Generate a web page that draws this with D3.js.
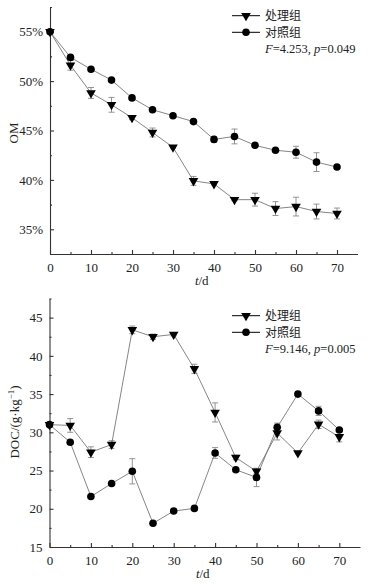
<!DOCTYPE html>
<html>
<head>
<meta charset="utf-8">
<script src="https://cdn.jsdelivr.net/npm/d3@7"></script>
<style>
  body { margin: 0; background: #fff; }
  svg text { font-family: "Liberation Serif", "Times New Roman", Times, "DejaVu Serif", serif !important; fill: #222; }
  svg text.cjk { font-family: "Noto Sans CJK SC", sans-serif !important; }
</style>
</head>
<body>
<div id="chart"></div>
<script>
// sampling days
const days = [0, 5, 10, 15, 20, 25, 30, 35, 40, 45, 50, 55, 60, 65, 70];

// OM (%)
const omTreat = [55.0, 51.6, 48.8, 47.6, 46.3, 44.8, 43.3, 39.9, 39.6, 38.0, 38.0, 37.1, 37.3, 36.8, 36.6];
const omTreatErr = [0.05, 0.5, 0.55, 0.75, 0.2, 0.45, 0.1, 0.45, 0.1, 0.1, 0.65, 0.7, 0.95, 0.75, 0.55];
const omCtrl = [55.0, 52.4, 51.2, 50.1, 48.3, 47.1, 46.5, 45.9, 44.1, 44.4, 43.5, 43.0, 42.8, 41.8, 41.3];
const omCtrlErr = [0.05, 0.1, 0.1, 0.1, 0.1, 0.1, 0.1, 0.1, 0.3, 0.75, 0.1, 0.1, 0.6, 0.95, 0.15];

// DOC (g/kg)
const docTreat = [31.0, 30.9, 27.4, 28.4, 43.4, 42.5, 42.8, 38.3, 32.6, 26.7, 24.9, 29.9, 27.3, 31.05, 29.4];
const docTreatErr = [0.1, 0.9, 0.7, 0.5, 0.5, 0.35, 0.2, 0.6, 1.25, 0.3, 0.35, 0.9, 0.1, 0.55, 0.65];
const docCtrl = [31.0, 28.7, 21.6, 23.3, 24.9, 18.1, 19.7, 20.05, 27.3, 25.1, 24.1, 30.65, 35.0, 32.8, 30.3];
const docCtrlErr = [0.1, 0.2, 0.1, 0.1, 1.65, 0.1, 0.1, 0.1, 0.7, 0.1, 1.2, 0.55, 0.1, 0.6, 0.2];

const xTicks = [0, 10, 20, 30, 40, 50, 60, 70];
const omTicks = [35, 40, 45, 50, 55];
const docTicks = [15, 20, 25, 30, 35, 40, 45];
const seriesNames = ["处理组", "对照组"];
const omStat = ["4.253", "0.049"];
const docStat = ["9.146", "0.005"];

const width = 370, height = 584;

const svg = d3.select("#chart")
    .append("svg")
    .attr("width", width)
    .attr("height", height)
    .attr("viewBox", [0, 0, width, height]);

const tri = d3.symbol().type(d3.symbolTriangle).size(40);

function panel(opt) {
    const g = svg.append("g");
    const x = d3.scaleLinear().domain([0, 75]).range([opt.left, opt.right]);
    const y = d3.scaleLinear().domain(opt.yDomain).range([opt.bottom, opt.top]);

    // axes, ticks pointing inward
    g.append("g")
        .attr("transform", `translate(0,${opt.bottom})`)
        .call(d3.axisBottom(x).tickValues(d3.range(5, 75, 10)).tickSize(-2).tickFormat(""))
        .call(a => a.select(".domain").remove());
    g.append("g")
        .attr("transform", `translate(0,${opt.bottom})`)
        .call(d3.axisBottom(x).tickValues(xTicks).tickSize(-4).tickPadding(9).tickSizeOuter(0))
        .call(a => a.selectAll("text").attr("font-size", 13));
    g.append("g")
        .attr("transform", `translate(${opt.left},0)`)
        .call(d3.axisLeft(y).tickValues(opt.minor).tickSize(-2).tickFormat(""))
        .call(a => a.select(".domain").remove());
    g.append("g")
        .attr("transform", `translate(${opt.left},0)`)
        .call(d3.axisLeft(y).tickValues(opt.yTicks).tickSize(-4).tickPadding(7).tickSizeOuter(0).tickFormat(opt.fmt))
        .call(a => a.selectAll("text").attr("font-size", 13));
    g.selectAll(".domain, .tick line").attr("stroke", "#333").attr("stroke-width", 1.1);

    const line = d3.line().x((d, i) => x(days[i])).y(d => y(d));

    const series = [
        {v: opt.treat, e: opt.treatErr, shape: "tri"},
        {v: opt.ctrl, e: opt.ctrlErr, shape: "circle"}
    ];

    series.forEach(s => {
        // error bars
        const eb = g.append("g").attr("stroke", "#888").attr("stroke-width", 0.9);
        s.v.forEach((v, i) => {
            const cx = x(days[i]), y1 = y(v + s.e[i]), y2 = y(v - s.e[i]);
            eb.append("line").attr("x1", cx).attr("x2", cx).attr("y1", y1).attr("y2", y2);
            eb.append("line").attr("x1", cx - 3).attr("x2", cx + 3).attr("y1", y1).attr("y2", y1);
            eb.append("line").attr("x1", cx - 3).attr("x2", cx + 3).attr("y1", y2).attr("y2", y2);
        });
        g.append("path")
            .datum(s.v)
            .attr("fill", "none")
            .attr("stroke", "#777")
            .attr("stroke-width", 0.9)
            .attr("d", line);
    });

    series.forEach(s => {
        if (s.shape === "tri") {
            g.selectAll(null).data(s.v).join("path")
                .attr("d", tri)
                .attr("transform", (d, i) => `translate(${x(days[i])},${y(d)}) rotate(180)`)
                .attr("fill", "#000");
        } else {
            g.selectAll(null).data(s.v).join("circle")
                .attr("cx", (d, i) => x(days[i]))
                .attr("cy", d => y(d))
                .attr("r", 3.8)
                .attr("fill", "#000");
        }
    });

    // legend
    const lx = 232, ly = opt.legendY;
    seriesNames.forEach((name, i) => {
        const yy = ly + i * 16.6;
        g.append("line").attr("x1", lx).attr("x2", lx + 28).attr("y1", yy).attr("y2", yy)
            .attr("stroke", "#000").attr("stroke-width", 1);
        if (i === 0) {
            g.append("path").attr("d", tri).attr("transform", `translate(${lx + 14},${yy}) rotate(180)`).attr("fill", "#000");
        } else {
            g.append("circle").attr("cx", lx + 14).attr("cy", yy).attr("r", 3.8).attr("fill", "#000");
        }
        g.append("text").attr("class", "cjk").attr("x", lx + 33).attr("y", yy + 4.5)
            .attr("font-size", 12)
            .text(name);
    });
    const st = g.append("text").attr("x", lx + 33).attr("y", ly + 2 * 16.6 + 4)
        .attr("font-size", 12.5);
    st.append("tspan").attr("font-style", "italic").text("F");
    st.append("tspan").text("=" + opt.stat[0] + ", ");
    st.append("tspan").attr("font-style", "italic").text("p");
    st.append("tspan").text("=" + opt.stat[1]);

    // x label
    const xl = g.append("text").attr("x", (opt.left + opt.right) / 2 - 2).attr("y", opt.bottom + 31)
        .attr("text-anchor", "middle").attr("font-size", 13);
    xl.append("tspan").attr("font-style", "italic").text("t");
    xl.append("tspan").text("/d");

    return g;
}

const g1 = panel({
    left: 50, right: 357.5, top: 7, bottom: 254,
    yDomain: [32.5, 57.5], yTicks: omTicks, minor: [32.5, 37.5, 42.5, 47.5, 52.5, 57.5],
    fmt: d => d + "%",
    treat: omTreat, treatErr: omTreatErr, ctrl: omCtrl, ctrlErr: omCtrlErr,
    legendY: 15.7, stat: omStat
});
g1.append("text")
    .attr("transform", "translate(18,133) rotate(-90)")
    .attr("text-anchor", "middle").attr("font-size", 13)
    .text("OM");

const g2 = panel({
    left: 49.5, right: 360, top: 298.5, bottom: 547,
    yDomain: [15, 47.5], yTicks: docTicks, minor: [17.5, 22.5, 27.5, 32.5, 37.5, 42.5, 47.5],
    fmt: d => d,
    treat: docTreat, treatErr: docTreatErr, ctrl: docCtrl, ctrlErr: docCtrlErr,
    legendY: 315.7, stat: docStat
});
const dl = g2.append("text")
    .attr("transform", "translate(19,422) rotate(-90)")
    .attr("text-anchor", "middle").attr("font-size", 13);
dl.append("tspan").text("DOC/(g·kg");
dl.append("tspan").attr("font-size", 9).attr("dy", -5).text("−1");
dl.append("tspan").attr("dy", 5).text(")");
</script>
</body>
</html>
